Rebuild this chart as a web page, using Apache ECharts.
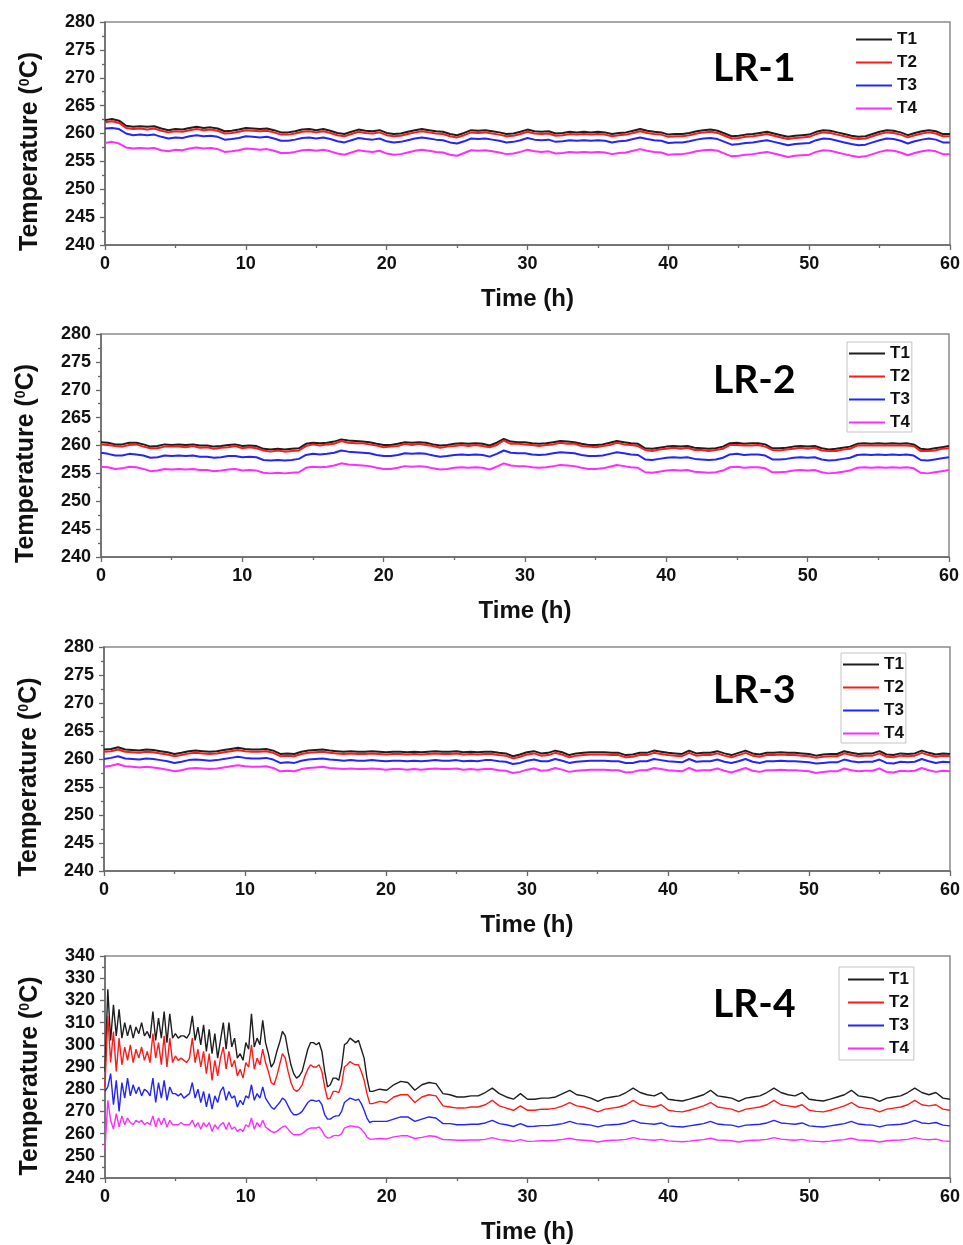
<!DOCTYPE html>
<html>
<head>
<meta charset="utf-8">
<script src="https://cdn.jsdelivr.net/npm/echarts/dist/echarts.min.js"></script>
<style>
  body { margin: 0; background: #fff; }
  #main { width: 963px; height: 1245px; }
</style>
</head>
<body>
<div id="main"></div>
<script>
// time grid (h) for LR-1..LR-3
var timeHalf = [0,0.5,1,1.5,2,2.5,3,3.5,4,4.5,5,5.5,6,6.5,7,7.5,8,8.5,9,9.5,10,10.5,11,11.5,12,12.5,13,13.5,14,14.5,15,15.5,16,16.5,17,17.5,18,18.5,19,19.5,20,20.5,21,21.5,22,22.5,23,23.5,24,24.5,25,25.5,26,26.5,27,27.5,28,28.5,29,29.5,30,30.5,31,31.5,32,32.5,33,33.5,34,34.5,35,35.5,36,36.5,37,37.5,38,38.5,39,39.5,40,40.5,41,41.5,42,42.5,43,43.5,44,44.5,45,45.5,46,46.5,47,47.5,48,48.5,49,49.5,50,50.5,51,51.5,52,52.5,53,53.5,54,54.5,55,55.5,56,56.5,57,57.5,58,58.5,59,59.5,60]

// time grid (h) for LR-4, denser in the noisy start
var timeLR4 = [0,0.2,0.4,0.6,0.8,1,1.2,1.4,1.6,1.8,
  2,2.2,2.4,2.6,2.8,3,3.2,3.4,3.6,3.8,
  4,4.2,4.4,4.6,4.8,5,5.2,5.4,5.6,5.8,
  6,6.2,6.4,6.6,6.8,7,7.2,7.4,7.6,7.8,
  8,8.2,8.4,8.6,8.8,9,9.2,9.4,9.6,9.8,
  10,10.2,10.4,10.6,10.8,11,11.2,11.4,11.6,
  11.8,12,12.2,12.4,12.6,12.8,13,13.2,13.4,13.6,
  13.8,14,14.2,14.4,14.6,14.8,15,15.2,15.4,15.6,
  15.8,16,16.2,16.4,16.6,16.8,17,17.2,17.4,17.6,
  17.8,18,18.2,18.4,18.6,18.8,19,
  19.5,20,20.5,21,21.5,22,22.5,23,23.5,24,24.5,25,25.5,26,26.5,27,27.5,28,28.5,29,29.5,30,30.5,31,31.5,32,32.5,33,33.5,34,34.5,35,35.5,36,36.5,37,37.5,38,38.5,39,39.5,40,40.5,41,41.5,42,42.5,43,43.5,44,44.5,45,45.5,46,46.5,47,47.5,48,48.5,49,49.5,50,50.5,51,51.5,52,52.5,53,53.5,54,54.5,55,55.5,56,56.5,57,57.5,58,58.5,59,59.5,60]

var panelNames = ['LR-1', 'LR-2', 'LR-3', 'LR-4']
var seriesNames = ['T1', 'T2', 'T3', 'T4']
var seriesColors = ['#1e1e1e', '#ff1a1a', '#2424ff', '#ff2bff']
var xTicks = [0, 10, 20, 30, 40, 50, 60]

// LR-1
var lr1T1 = [262.4,262.6,262.3,261.4,261.2,261.3,261.2,261.3,260.9,260.6,
  260.8,260.7,261.0,261.2,261.0,261.1,260.9,260.4,260.5,260.7,
  261.0,260.9,260.8,260.9,260.6,260.2,260.2,260.4,260.7,260.8,
  260.6,260.8,260.5,260.1,259.9,260.3,260.7,260.5,260.4,260.6,
  260.1,259.9,260.0,260.3,260.6,260.8,260.6,260.4,260.3,259.9,
  259.7,260.1,260.6,260.5,260.6,260.4,260.2,259.9,260.0,260.3,
  260.7,260.4,260.3,260.4,260.0,260.1,260.3,260.2,260.3,260.2,
  260.3,260.2,259.9,260.1,260.2,260.5,260.8,260.5,260.3,260.2,
  259.8,259.9,259.9,260.1,260.4,260.6,260.7,260.5,260.0,259.5,
  259.6,259.8,259.9,260.1,260.3,260.0,259.7,259.4,259.6,259.7,
  259.8,260.3,260.6,260.5,260.2,259.9,259.6,259.4,259.5,259.9,
  260.3,260.6,260.5,260.2,259.7,260.1,260.4,260.6,260.4,259.9,
  259.9]
var lr1T2 = [262.0,262.2,261.9,261.0,260.8,260.9,260.7,260.9,260.5,260.2,
  260.4,260.3,260.6,260.8,260.6,260.7,260.5,260.0,260.1,260.3,
  260.6,260.5,260.4,260.5,260.2,259.8,259.8,260.0,260.3,260.4,
  260.2,260.4,260.1,259.7,259.5,259.9,260.3,260.1,260.0,260.2,
  259.7,259.5,259.6,259.9,260.2,260.4,260.2,260.0,259.9,259.5,
  259.3,259.7,260.2,260.1,260.2,260.0,259.8,259.5,259.6,259.9,
  260.3,260.0,259.9,260.0,259.6,259.7,259.9,259.8,259.9,259.8,
  259.9,259.8,259.5,259.7,259.8,260.1,260.4,260.1,259.9,259.8,
  259.4,259.5,259.5,259.7,260.0,260.2,260.3,260.1,259.6,259.1,
  259.2,259.4,259.5,259.7,259.9,259.6,259.3,259.0,259.2,259.3,
  259.4,259.9,260.2,260.1,259.8,259.5,259.2,259.0,259.1,259.5,
  259.9,260.2,260.1,259.8,259.3,259.7,260.0,260.2,260.0,259.5,
  259.5]
var lr1T3 = [260.9,261.0,260.8,260.0,259.7,259.8,259.7,259.8,259.4,259.1,
  259.3,259.2,259.5,259.7,259.5,259.6,259.4,258.9,259.0,259.2,
  259.5,259.4,259.3,259.4,259.1,258.7,258.7,258.9,259.2,259.3,
  259.1,259.3,259.0,258.6,258.4,258.8,259.2,259.0,258.9,259.1,
  258.6,258.4,258.5,258.8,259.1,259.3,259.1,258.9,258.8,258.4,
  258.2,258.6,259.1,259.0,259.1,258.9,258.7,258.4,258.5,258.8,
  259.2,258.9,258.8,258.9,258.5,258.6,258.8,258.7,258.8,258.7,
  258.8,258.7,258.4,258.6,258.7,259.0,259.3,259.0,258.8,258.7,
  258.3,258.4,258.4,258.6,258.9,259.1,259.2,259.0,258.5,258.0,
  258.1,258.3,258.4,258.6,258.8,258.5,258.2,257.9,258.1,258.2,
  258.3,258.8,259.1,259.0,258.7,258.4,258.1,257.9,258.0,258.4,
  258.8,259.1,259.0,258.7,258.2,258.6,258.9,259.1,258.9,258.4,
  258.4]
var lr1T4 = [258.3,258.5,258.2,257.5,257.3,257.4,257.3,257.4,257.0,256.8,
  257.1,257.0,257.3,257.5,257.3,257.4,257.2,256.7,256.8,257.0,
  257.3,257.2,257.1,257.2,256.9,256.5,256.5,256.7,257.0,257.1,
  256.9,257.1,256.8,256.4,256.2,256.6,257.0,256.8,256.7,256.9,
  256.4,256.2,256.3,256.6,256.9,257.1,256.9,256.7,256.6,256.2,
  256.0,256.5,257.0,256.9,257.0,256.8,256.6,256.3,256.4,256.7,
  257.1,256.8,256.7,256.8,256.4,256.5,256.7,256.6,256.7,256.6,
  256.7,256.6,256.3,256.5,256.6,256.9,257.2,256.9,256.7,256.6,
  256.2,256.3,256.3,256.5,256.8,257.0,257.1,256.9,256.4,255.9,
  256.0,256.2,256.3,256.5,256.7,256.4,256.1,255.8,256.0,256.1,
  256.2,256.7,257.0,256.9,256.6,256.3,256.0,255.8,255.9,256.3,
  256.7,257.0,256.9,256.6,256.1,256.5,256.8,257.0,256.8,256.3,
  256.3]

// LR-2
var lr2T1 = [260.6,260.5,260.2,260.2,260.5,260.5,260.2,259.8,259.9,260.2,
  260.1,260.2,260.1,260.2,260.0,260.0,259.8,259.9,260.1,260.2,
  259.9,260.0,259.9,259.4,259.3,259.4,259.3,259.4,259.5,260.3,
  260.5,260.4,260.5,260.7,261.1,260.9,260.8,260.7,260.6,260.3,
  260.1,260.1,260.3,260.6,260.5,260.6,260.5,260.2,260.0,260.1,
  260.3,260.4,260.3,260.4,260.3,260.0,260.5,261.2,260.7,260.6,
  260.6,260.4,260.3,260.4,260.6,260.8,260.7,260.6,260.3,260.1,
  260.1,260.2,260.5,260.8,260.6,260.4,260.3,259.5,259.4,259.6,
  259.8,259.9,259.8,259.9,259.6,259.5,259.4,259.5,259.8,260.4,
  260.5,260.3,260.4,260.4,260.2,259.5,259.5,259.6,259.8,259.9,
  259.8,259.9,259.5,259.3,259.4,259.6,259.8,260.3,260.4,260.3,
  260.4,260.3,260.4,260.3,260.4,260.2,259.4,259.3,259.5,259.7,
  259.9]
var lr2T2 = [260.2,260.1,259.9,259.8,260.1,260.2,259.8,259.5,259.5,259.8,
  259.8,259.8,259.7,259.9,259.6,259.7,259.4,259.6,259.7,259.9,
  259.5,259.7,259.5,259.1,258.9,259.1,258.9,259.0,259.1,259.9,
  260.2,260.0,260.2,260.3,260.8,260.5,260.4,260.4,260.2,260.0,
  259.7,259.8,259.9,260.3,260.1,260.3,260.1,259.9,259.6,259.8,
  259.9,260.1,259.9,260.1,259.9,259.7,260.1,260.9,260.3,260.3,
  260.2,260.1,259.9,260.1,260.2,260.5,260.3,260.3,259.9,259.8,
  259.7,259.9,260.1,260.5,260.2,260.1,259.9,259.2,259.0,259.3,
  259.4,259.6,259.4,259.6,259.2,259.2,259.0,259.2,259.4,260.1,
  260.1,260.0,260.0,260.1,259.8,259.2,259.1,259.3,259.4,259.6,
  259.4,259.6,259.1,259.0,259.0,259.3,259.4,260.0,260.0,260.0,
  260.0,260.0,260.0,260.0,260.0,259.9,259.0,259.0,259.1,259.4,
  259.5]
var lr2T3 = [258.7,258.5,258.2,258.2,258.5,258.4,258.2,257.8,257.9,258.2,
  258.1,258.2,258.1,258.2,258.0,258.0,257.8,257.9,258.1,258.1,
  257.9,258.0,257.9,257.4,257.3,257.4,257.3,257.4,257.6,258.3,
  258.5,258.4,258.5,258.7,259.1,258.9,258.8,258.7,258.6,258.3,
  258.1,258.1,258.3,258.6,258.5,258.6,258.5,258.2,258.0,258.1,
  258.3,258.4,258.3,258.4,258.3,258.0,258.5,259.1,258.7,258.6,
  258.6,258.4,258.3,258.4,258.6,258.8,258.7,258.6,258.3,258.1,
  258.1,258.2,258.5,258.8,258.6,258.4,258.3,257.5,257.4,257.6,
  257.8,257.9,257.8,257.9,257.6,257.5,257.4,257.5,257.8,258.4,
  258.5,258.3,258.4,258.4,258.2,257.5,257.5,257.6,257.8,257.9,
  257.8,257.9,257.5,257.3,257.4,257.6,257.8,258.3,258.4,258.3,
  258.4,258.3,258.4,258.3,258.4,258.2,257.4,257.3,257.5,257.7,
  257.9]
var lr2T4 = [256.2,256.1,255.8,255.9,256.2,256.1,255.8,255.4,255.5,255.8,
  255.7,255.8,255.7,255.8,255.6,255.6,255.4,255.5,255.7,255.8,
  255.5,255.6,255.5,255.1,255.0,255.1,255.0,255.1,255.2,256.0,
  256.2,256.1,256.2,256.4,256.8,256.6,256.5,256.4,256.3,256.0,
  255.8,255.8,256.0,256.3,256.2,256.3,256.2,255.9,255.7,255.8,
  256.0,256.1,256.0,256.1,256.0,255.7,256.2,256.8,256.4,256.3,
  256.3,256.1,256.0,256.1,256.3,256.5,256.4,256.3,256.0,255.8,
  255.8,255.9,256.2,256.5,256.3,256.1,256.0,255.2,255.1,255.3,
  255.5,255.6,255.5,255.6,255.3,255.2,255.1,255.2,255.5,256.1,
  256.2,256.0,256.1,256.1,255.9,255.2,255.2,255.3,255.5,255.6,
  255.5,255.6,255.2,255.0,255.1,255.3,255.5,256.0,256.1,256.0,
  256.1,256.0,256.1,256.0,256.1,255.9,255.1,255.0,255.2,255.4,
  255.6]

// LR-3
var lr3T1 = [261.7,261.8,262.1,261.7,261.6,261.5,261.7,261.6,261.4,261.2,
  260.9,261.1,261.4,261.5,261.4,261.3,261.4,261.6,261.8,262.0,
  261.8,261.7,261.7,261.8,261.5,260.9,261.0,260.9,261.3,261.5,
  261.6,261.7,261.5,261.4,261.3,261.4,261.3,261.3,261.4,261.3,
  261.2,261.3,261.3,261.2,261.3,261.2,261.3,261.4,261.3,261.3,
  261.4,261.2,261.3,261.2,261.3,261.3,261.1,261.0,260.5,260.8,
  261.2,261.4,261.0,261.1,261.5,261.2,260.7,261.0,261.1,261.2,
  261.2,261.2,261.1,261.1,260.7,260.8,261.1,261.1,261.5,261.3,
  261.1,261.0,260.9,261.5,261.0,261.1,261.1,261.4,261.0,260.7,
  261.1,261.5,261.0,260.8,261.1,261.1,261.2,261.1,261.1,261.0,
  260.9,260.6,260.8,260.9,260.9,261.4,261.1,260.9,261.0,261.0,
  261.4,260.8,260.7,261.0,260.9,261.0,261.5,261.1,260.8,261.0,
  260.9]
var lr3T2 = [261.3,261.4,261.7,261.3,261.2,261.1,261.3,261.2,261.0,260.8,
  260.5,260.7,261.0,261.1,261.0,260.9,261.0,261.2,261.4,261.6,
  261.4,261.3,261.3,261.4,261.1,260.5,260.6,260.5,260.9,261.1,
  261.2,261.3,261.1,261.0,260.9,261.0,260.9,260.9,261.0,260.9,
  260.8,260.9,260.9,260.8,260.9,260.8,260.9,261.0,260.9,260.9,
  261.0,260.8,260.9,260.8,260.9,260.9,260.7,260.6,260.1,260.4,
  260.8,261.0,260.6,260.7,261.1,260.8,260.3,260.6,260.7,260.8,
  260.8,260.8,260.7,260.7,260.3,260.4,260.7,260.7,261.1,260.9,
  260.7,260.6,260.5,261.1,260.6,260.7,260.7,261.0,260.6,260.3,
  260.7,261.1,260.6,260.4,260.7,260.7,260.8,260.7,260.7,260.6,
  260.5,260.2,260.4,260.5,260.5,261.0,260.7,260.5,260.6,260.6,
  261.0,260.4,260.3,260.6,260.5,260.6,261.1,260.7,260.4,260.6,
  260.5]
var lr3T3 = [260.0,260.2,260.5,260.1,260.0,259.9,260.1,260.0,259.8,259.6,
  259.3,259.5,259.8,259.9,259.8,259.7,259.8,260.0,260.2,260.4,
  260.2,260.1,260.1,260.2,259.9,259.3,259.4,259.3,259.7,259.9,
  260.0,260.1,259.9,259.8,259.7,259.8,259.7,259.7,259.8,259.7,
  259.6,259.7,259.7,259.6,259.7,259.6,259.7,259.8,259.7,259.7,
  259.8,259.6,259.7,259.6,259.8,259.8,259.6,259.5,259.1,259.3,
  259.7,259.9,259.6,259.6,260.0,259.7,259.3,259.5,259.6,259.7,
  259.7,259.7,259.6,259.6,259.3,259.3,259.6,259.6,260.0,259.8,
  259.6,259.5,259.4,260.0,259.5,259.6,259.6,259.9,259.5,259.3,
  259.6,260.0,259.5,259.3,259.6,259.6,259.7,259.6,259.6,259.5,
  259.4,259.2,259.3,259.4,259.4,259.9,259.6,259.4,259.5,259.5,
  259.9,259.3,259.2,259.5,259.4,259.5,260.0,259.6,259.3,259.5,
  259.4]
var lr3T4 = [258.6,258.8,259.1,258.7,258.6,258.5,258.6,258.5,258.3,258.1,
  257.8,258.0,258.3,258.4,258.3,258.2,258.3,258.5,258.7,258.9,
  258.7,258.6,258.6,258.7,258.4,257.8,257.9,257.8,258.2,258.4,
  258.5,258.6,258.4,258.3,258.2,258.3,258.2,258.2,258.3,258.2,
  258.1,258.2,258.2,258.1,258.2,258.1,258.2,258.3,258.2,258.2,
  258.3,258.1,258.2,258.1,258.2,258.2,258.0,257.9,257.5,257.7,
  258.1,258.3,257.9,258.0,258.4,258.1,257.7,257.9,258.0,258.1,
  258.1,258.1,258.0,258.0,257.6,257.7,258.0,258.0,258.4,258.2,
  258.0,257.9,257.8,258.4,257.9,258.0,258.0,258.3,257.9,257.6,
  258.0,258.4,257.9,257.7,258.0,258.0,258.1,258.0,258.0,257.9,
  257.8,257.5,257.7,257.8,257.8,258.3,258.0,257.8,257.9,257.9,
  258.3,257.7,257.6,257.9,257.8,257.9,258.4,258.0,257.7,257.9,
  257.8]

// LR-4
var lr4T1 = [288,325,302,318,304,316,303,310,304,309,
  303,308,305,310,304,306,303,315,302,312,
  303,315,301,314,303,305,303,304,304,303,
  305,313,302,308,300,309,297,307,296,305,
  294,302,310,298,310,299,303,294,296,293,
  301,298,314,299,303,300,311,301,296,
  290,292,297,301,306,304,297,291,287,285,
  286,288,293,298,301,301,300,301,297,288,
  281,282,285,285,284,290,300,301,303,302,
  301,302,298,294,285,279,279,
  280,279.5,282,283.5,283,279.5,282,283,282.5,278,
  277.5,276.5,276.5,277,277,278.5,280.5,278,276.5,275.5,
  278,275.5,275.5,276,276,276.5,278,279.5,277.5,277,
  276,274.5,276,276.5,277,278.5,280.5,278.5,277.5,277,
  278.5,275.5,275,274.7,275.5,276.5,277.5,279.5,277,276.5,
  276,274.5,276,276.5,277,278.5,280.5,278.5,277.5,277,
  278.5,275.5,275,274.7,275.5,276.5,277.5,279.5,277,276.5,
  276,274.5,276,276.5,277,278.5,280.5,278.5,277.5,278.5,
  276,275.5]
var lr4T2 = [281,313,292,306,288,303,291,299,293,300,
  292,298,294,299,293,297,292,305,294,301,
  291,304,290,303,292,295,293,294,293,292,
  294,303,292,298,290,297,287,296,284,293,
  286,294,299,289,297,290,293,286,289,285,
  292,290,300,289,294,291,298,292,288,
  283,282,286,291,296,294,288,283,280,279,
  280,282,286,289,291,290,290,291,288,281,
  275.5,276,279,279,278.5,282,290,291,292.5,291.5,
  291,291,288,284,278,273.5,273.5,
  274.5,274,276.5,277.5,277.5,274,276.5,277.5,277,272.5,
  272,271.5,271.5,272,272,273,275,272.5,271.5,270.5,
  272.5,270.5,270.5,271,271,271.5,272.5,274,272.5,272,
  271,269.8,271,271.5,272,273,275,273,272.5,272,
  273,270.5,270,269.8,270.5,271.5,272.5,274,272,271.5,
  271,269.8,271,271.5,272,273,275,273,272.5,272,
  273,270.5,270,269.8,270.5,271.5,272.5,274,272,271.5,
  271,269.8,271,271.5,272,273,275,273,272.5,273,
  271,270.5]
var lr4T3 = [279,281,287,273,284,270,283,276,285,277,
  282,278,281,277,280,279,277,285,274,283,
  276,284,275,281,278,278,277,278,276,277,
  278,283,276,280,274,279,272,278,271,277,
  274,279,281,275,279,276,277,272,275,273,
  277,276,282,275,278,276,281,276,274,
  272,271,272.5,274,276,275,272.5,270,268.5,268.5,
  269,270,272,274,275,275,274.5,275,273,268.5,
  266.5,266.5,267.5,268,268,270,274,275,276,275.5,
  275,275.5,273.5,270.5,267,265,265.5,
  265.5,265.5,266.5,267.5,267.5,265.5,266.5,267.5,267,264.5,
  264.5,264,264,264.2,264.2,264.8,266,264.5,264,263.2,
  264.5,263.2,263.3,263.6,263.6,264,264.5,265.5,264.5,264.2,
  263.8,263,263.8,264,264.2,264.8,266,264.8,264.5,264.2,
  264.8,263.5,263.2,263,263.5,264,264.5,265.5,264.3,264,
  263.8,263,263.8,264,264.2,264.8,266,264.8,264.5,264.2,
  264.8,263.5,263.2,263,263.5,264,264.5,265.5,264.3,264,
  263.8,263,263.8,264,264.2,264.8,266,264.8,264.5,265,
  263.8,263.5]
var lr4T4 = [253,275,266,262,269,263,268,264,267,265,
  264,266,265,266,264,265,264,268,263,267,
  264,267,263,266,264,264,264,265,264,264,
  264,266,263,265,262,265,263,265,261,264,
  262,264,265,262,265,262,263,261,262,261,
  264,263,267,262,265,263,266,263,262,
  261,260.5,261,262,263,263.5,262,260.5,259.5,259.5,
  259.5,260,261,262,262.5,262.5,262.5,263,261.5,259,
  258,258.2,259,259.2,259,260,262.5,263,263.5,263.3,
  263,263,262,260.5,258.5,257.5,257.5,
  257.8,257.6,258.5,259,259,257.8,258.3,259,258.7,257.3,
  257.2,257,257,257.1,257.1,257.4,258.2,257.3,257,256.5,
  257.3,256.5,256.6,256.8,256.8,257,257.4,257.9,257.2,257,
  256.8,256.2,256.8,257,257.1,257.4,258.2,257.5,257.2,257,
  257.4,256.7,256.5,256.3,256.6,257,257.3,257.9,257.1,257,
  256.8,256.2,256.8,257,257.1,257.4,258.2,257.5,257.2,257,
  257.4,256.7,256.5,256.3,256.6,257,257.3,257.9,257.1,257,
  256.8,256.2,256.8,257,257.1,257.4,258.2,257.5,257.2,257.5,
  256.7,256.5]

var panelTimes = [timeHalf, timeHalf, timeHalf, timeLR4]
var panelValues = [
  [lr1T1, lr1T2, lr1T3, lr1T4],
  [lr2T1, lr2T2, lr2T3, lr2T4],
  [lr3T1, lr3T2, lr3T3, lr3T4],
  [lr4T1, lr4T2, lr4T3, lr4T4]
]
var yRanges = [[240, 280, 5], [240, 280, 5], [240, 280, 5], [240, 340, 10]]

var grids = [
  {left: 105, top: 22, width: 848, height: 223},
  {left: 101, top: 334, width: 848, height: 223},
  {left: 104, top: 647, width: 849, height: 224},
  {left: 105, top: 956, width: 848, height: 223}
]
var titlePos = [[713, 49], [713, 361], [713, 671], [713, 985]]
var legendPos = [
  {left: 856, top: 31, padding: 0, borderWidth: 0},
  {left: 847, top: 342, padding: [3, 2, 1, 2], borderWidth: 1},
  {left: 841, top: 653, padding: [3, 2, 1, 2], borderWidth: 1},
  {left: 839, top: 967, padding: [4, 5, 3, 9], borderWidth: 1}
]
var yNamePad = [[0, 36, 0, 0], [0, 36, 0, 0], [0, 36, 0, 0], [0, 18, 0, 0]]

function pairs(t, v) {
  var out = []
  for (var i = 0; i < v.length; i++) {
    out.push([t[i], v[i]])
  }
  return out
}

var labelFont = 'Liberation Sans'
var option = {
  animation: false,
  backgroundColor: '#fff',
  grid: [],
  xAxis: [],
  yAxis: [],
  title: [],
  legend: [],
  series: []
}

for (var p = 0; p < 4; p++) {
  option.grid.push({
    left: grids[p].left, top: grids[p].top, width: grids[p].width, height: grids[p].height,
    show: true, borderColor: '#8a8a8a', borderWidth: 1.5, backgroundColor: 'transparent'
  })
  option.xAxis.push({
    type: 'value', gridIndex: p, min: 0, max: 60, interval: 10,
    name: 'Time (h)', nameLocation: 'middle', nameGap: 42,
    nameTextStyle: {fontFamily: labelFont, fontWeight: 'bold', fontSize: 24, color: '#111'},
    axisLine: {lineStyle: {color: '#666', width: 1.5}},
    axisTick: {show: true, length: 5, lineStyle: {color: '#666', width: 1.3}},
    minorTick: {show: true, splitNumber: 2, length: 3, lineStyle: {color: '#666', width: 1.3}},
    axisLabel: {fontFamily: labelFont, fontWeight: 'bold', fontSize: 18, color: '#111', margin: 10},
    splitLine: {show: false}
  })
  option.yAxis.push({
    type: 'value', gridIndex: p, min: yRanges[p][0], max: yRanges[p][1], interval: yRanges[p][2],
    name: '{a|Temperature (}{s|0}{a|C)}', nameLocation: 'middle', nameGap: 62, nameRotate: 90,
    nameTextStyle: {
      padding: yNamePad[p],
      rich: {
        a: {fontFamily: labelFont, fontWeight: 'bold', fontSize: 25, color: '#111'},
        s: {fontFamily: labelFont, fontWeight: 'bold', fontSize: 14, color: '#111', verticalAlign: 'top'}
      }
    },
    axisLine: {show: true, lineStyle: {color: '#666', width: 1.5}},
    axisTick: {show: true, length: 5, lineStyle: {color: '#666', width: 1.3}},
    minorTick: {show: true, splitNumber: 2, length: 3, lineStyle: {color: '#666', width: 1.3}},
    axisLabel: {fontFamily: labelFont, fontWeight: 'bold', fontSize: 18, color: '#111', margin: 10},
    splitLine: {show: false}
  })
  option.title.push({
    text: panelNames[p], left: titlePos[p][0], top: titlePos[p][1], padding: 0,
    textStyle: {fontFamily: 'Lato', fontWeight: 'bold', fontSize: 39, color: '#000'}
  })
  option.legend.push({
    data: seriesNames, orient: 'vertical',
    left: legendPos[p].left, top: legendPos[p].top, padding: legendPos[p].padding,
    borderWidth: legendPos[p].borderWidth, borderColor: '#c4c4c4',
    icon: 'rect', itemWidth: 36, itemHeight: 2, itemGap: 6,
    textStyle: {fontFamily: labelFont, fontWeight: 'bold', fontSize: 17, lineHeight: 17, color: '#111'}
  })
  for (var s = 0; s < 4; s++) {
    option.series.push({
      name: seriesNames[s], type: 'line',
      xAxisIndex: p, yAxisIndex: p,
      data: pairs(panelTimes[p], panelValues[p][s]),
      symbol: 'none', showSymbol: false,
      color: seriesColors[s],
      lineStyle: {color: seriesColors[s], width: p == 3 ? 1.4 : 2}
    })
  }
}

var myChart = echarts.init(document.getElementById('main'))
myChart.setOption(option)
</script>
</body>
</html>
